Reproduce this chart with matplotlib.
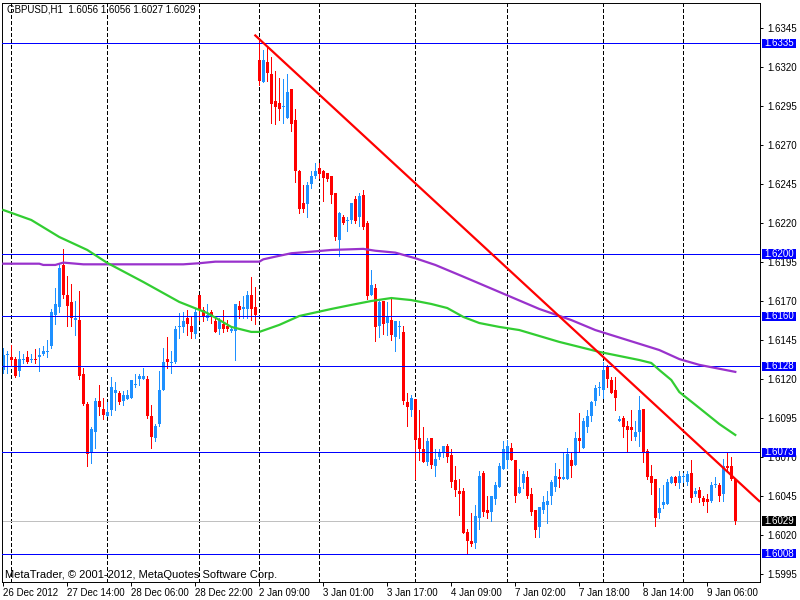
import numpy as np
import matplotlib
matplotlib.use("Agg")
import matplotlib.pyplot as plt
from matplotlib.patches import Rectangle
from matplotlib.transforms import blended_transform_factory

plt.rcParams['font.family'] = ['Liberation Sans', 'DejaVu Sans']
plt.rcParams['lines.scale_dashes'] = False

# GBPUSD H1 candles (bar index 0..183)
opens = [1.6126, 1.6135, 1.6134, 1.6133, 1.6125, 1.6132, 1.6134, 1.6132, 1.6133, 1.6134,
         1.6136, 1.6137, 1.6141, 1.6161, 1.6166, 1.6193, 1.6174, 1.6169, 1.6158, 1.6158,
         1.6123, 1.6104, 1.6073, 1.6086, 1.6106, 1.6101, 1.6096, 1.6100, 1.6111, 1.6111,
         1.6106, 1.6107, 1.6108, 1.6116, 1.6120, 1.6120, 1.6120, 1.6096, 1.6082, 1.6091,
         1.6113, 1.6133, 1.6130, 1.6131, 1.6153, 1.6153, 1.6159, 1.6154, 1.6149, 1.6174,
         1.6164, 1.6159, 1.6163, 1.6157, 1.6152, 1.6155, 1.6154, 1.6151, 1.6151, 1.6167,
         1.6165, 1.6165, 1.6174, 1.6166, 1.6324, 1.6310, 1.6323, 1.6315, 1.6298, 1.6297,
         1.6294, 1.6287, 1.6306, 1.6286, 1.6253, 1.6233, 1.6232, 1.6245, 1.6250, 1.6255,
         1.6253, 1.6252, 1.6250, 1.6239, 1.6209, 1.6224, 1.6221, 1.6222, 1.6235, 1.6224,
         1.6238, 1.6220, 1.6174, 1.6178, 1.6154, 1.6170, 1.6156, 1.6158, 1.6147, 1.6153,
         1.6150, 1.6105, 1.6100, 1.6107, 1.6082, 1.6075, 1.6067, 1.6082, 1.6064, 1.6070,
         1.6073, 1.6077, 1.6071, 1.6055, 1.6048, 1.6048, 1.6022, 1.6016, 1.6015, 1.6031,
         1.6060, 1.6036, 1.6035, 1.6043, 1.6051, 1.6062, 1.6068, 1.6076, 1.6068, 1.6047,
         1.6053, 1.6057, 1.6046, 1.6036, 1.6025, 1.6036, 1.6039, 1.6045, 1.6051, 1.6057,
         1.6056, 1.6056, 1.6068, 1.6065, 1.6082, 1.6076, 1.6089, 1.6096, 1.6106, 1.6114,
         1.6113, 1.6128, 1.6119, 1.6113, 1.6093, 1.6095, 1.6090, 1.6089, 1.6083, 1.6086,
         1.6101, 1.6074, 1.6058, 1.6056, 1.6034, 1.6039, 1.6040, 1.6053, 1.6057, 1.6053,
         1.6057, 1.6054, 1.6060, 1.6046, 1.6049, 1.6044, 1.6043, 1.6042, 1.6052, 1.6052,
         1.6046, 1.6064, 1.6064, 1.6056]
highs = [1.6140, 1.6138, 1.6142, 1.6134, 1.6138, 1.6136, 1.6138, 1.6136, 1.6139, 1.6140,
         1.6141, 1.6145, 1.6165, 1.6178, 1.6194, 1.6203, 1.6186, 1.6181, 1.6170, 1.6176,
         1.6127, 1.6105, 1.6089, 1.6108, 1.6116, 1.6108, 1.6105, 1.6121, 1.6118, 1.6112,
         1.6112, 1.6113, 1.6119, 1.6123, 1.6123, 1.6127, 1.6122, 1.6103, 1.6091, 1.6125,
         1.6140, 1.6147, 1.6138, 1.6154, 1.6162, 1.6163, 1.6164, 1.6160, 1.6165, 1.6174,
         1.6166, 1.6168, 1.6164, 1.6160, 1.6159, 1.6164, 1.6158, 1.6154, 1.6168, 1.6170,
         1.6173, 1.6176, 1.6185, 1.6179, 1.6337, 1.6331, 1.6332, 1.6326, 1.6317, 1.6313,
         1.6312, 1.6315, 1.6306, 1.6293, 1.6254, 1.6244, 1.6246, 1.6253, 1.6258, 1.6258,
         1.6254, 1.6252, 1.6250, 1.6239, 1.6227, 1.6225, 1.6224, 1.6233, 1.6237, 1.6239,
         1.6241, 1.6221, 1.6190, 1.6181, 1.6170, 1.6170, 1.6169, 1.6172, 1.6157, 1.6157,
         1.6154, 1.6111, 1.6110, 1.6107, 1.6100, 1.6089, 1.6082, 1.6082, 1.6075, 1.6075,
         1.6077, 1.6078, 1.6075, 1.6064, 1.6056, 1.6050, 1.6024, 1.6034, 1.6039, 1.6061,
         1.6061, 1.6045, 1.6045, 1.6054, 1.6066, 1.6080, 1.6081, 1.6079, 1.6068, 1.6062,
         1.6061, 1.6061, 1.6050, 1.6036, 1.6038, 1.6045, 1.6048, 1.6055, 1.6066, 1.6062,
         1.6073, 1.6076, 1.6073, 1.6086, 1.6098, 1.6095, 1.6100, 1.6106, 1.6116, 1.6118,
         1.6131, 1.6129, 1.6121, 1.6121, 1.6096, 1.6096, 1.6093, 1.6100, 1.6093, 1.6109,
         1.6101, 1.6075, 1.6065, 1.6056, 1.6050, 1.6052, 1.6056, 1.6058, 1.6058, 1.6061,
         1.6060, 1.6061, 1.6068, 1.6050, 1.6051, 1.6045, 1.6046, 1.6054, 1.6057, 1.6053,
         1.6069, 1.6073, 1.6070, 1.6056]
lows = [1.6124, 1.6124, 1.6129, 1.6121, 1.6122, 1.6130, 1.6130, 1.6131, 1.6130, 1.6125,
        1.6135, 1.6134, 1.6140, 1.6155, 1.6163, 1.6172, 1.6154, 1.6154, 1.6148, 1.6120,
        1.6103, 1.6064, 1.6066, 1.6076, 1.6097, 1.6094, 1.6096, 1.6097, 1.6100, 1.6104,
        1.6103, 1.6107, 1.6108, 1.6115, 1.6116, 1.6120, 1.6095, 1.6076, 1.6080, 1.6090,
        1.6113, 1.6127, 1.6124, 1.6130, 1.6146, 1.6150, 1.6148, 1.6146, 1.6146, 1.6158,
        1.6157, 1.6158, 1.6156, 1.6150, 1.6149, 1.6150, 1.6151, 1.6150, 1.6132, 1.6159,
        1.6159, 1.6159, 1.6158, 1.6155, 1.6308, 1.6310, 1.6311, 1.6284, 1.6283, 1.6286,
        1.6284, 1.6287, 1.6279, 1.6246, 1.6226, 1.6227, 1.6224, 1.6242, 1.6249, 1.6249,
        1.6234, 1.6247, 1.6233, 1.6209, 1.6199, 1.6219, 1.6215, 1.6220, 1.6220, 1.6218,
        1.6216, 1.6171, 1.6174, 1.6144, 1.6147, 1.6149, 1.6148, 1.6145, 1.6138, 1.6146,
        1.6104, 1.6090, 1.6096, 1.6056, 1.6068, 1.6067, 1.6065, 1.6063, 1.6058, 1.6069,
        1.6070, 1.6067, 1.6051, 1.6045, 1.6033, 1.6021, 1.6008, 1.6013, 1.6012, 1.6024,
        1.6032, 1.6031, 1.6029, 1.6040, 1.6051, 1.6062, 1.6063, 1.6068, 1.6041, 1.6047,
        1.6050, 1.6044, 1.6033, 1.6019, 1.6019, 1.6034, 1.6028, 1.6040, 1.6048, 1.6051,
        1.6056, 1.6056, 1.6057, 1.6065, 1.6074, 1.6076, 1.6086, 1.6093, 1.6103, 1.6110,
        1.6108, 1.6115, 1.6111, 1.6100, 1.6093, 1.6083, 1.6074, 1.6081, 1.6081, 1.6077,
        1.6067, 1.6056, 1.6046, 1.6026, 1.6031, 1.6037, 1.6040, 1.6053, 1.6052, 1.6050,
        1.6054, 1.6052, 1.6041, 1.6045, 1.6041, 1.6039, 1.6035, 1.6041, 1.6051, 1.6042,
        1.6042, 1.6061, 1.6055, 1.6027]
closes = [1.6135, 1.6136, 1.6132, 1.6122, 1.6133, 1.6133, 1.6131, 1.6133, 1.6132, 1.6135,
          1.6138, 1.6138, 1.6163, 1.6168, 1.6191, 1.6174, 1.6167, 1.6159, 1.6159, 1.6122,
          1.6104, 1.6072, 1.6088, 1.6106, 1.6102, 1.6097, 1.6099, 1.6115, 1.6113, 1.6105,
          1.6110, 1.6110, 1.6119, 1.6117, 1.6122, 1.6122, 1.6096, 1.6083, 1.6090, 1.6113,
          1.6131, 1.6131, 1.6131, 1.6152, 1.6154, 1.6157, 1.6155, 1.6150, 1.6163, 1.6164,
          1.6160, 1.6161, 1.6160, 1.6150, 1.6158, 1.6152, 1.6152, 1.6152, 1.6168, 1.6164,
          1.6166, 1.6174, 1.6165, 1.6161, 1.6311, 1.6324, 1.6316, 1.6296, 1.6294, 1.6293,
          1.6295, 1.6304, 1.6283, 1.6253, 1.6229, 1.6229, 1.6244, 1.6250, 1.6253, 1.6251,
          1.6249, 1.6248, 1.6238, 1.6211, 1.6226, 1.6220, 1.6222, 1.6233, 1.6221, 1.6237,
          1.6217, 1.6173, 1.6180, 1.6153, 1.6169, 1.6155, 1.6160, 1.6148, 1.6157, 1.6154,
          1.6106, 1.6102, 1.6108, 1.6081, 1.6075, 1.6067, 1.6080, 1.6065, 1.6069, 1.6073,
          1.6077, 1.6070, 1.6054, 1.6049, 1.6046, 1.6021, 1.6016, 1.6014, 1.6032, 1.6058,
          1.6035, 1.6034, 1.6045, 1.6052, 1.6064, 1.6075, 1.6077, 1.6068, 1.6045, 1.6051,
          1.6059, 1.6045, 1.6035, 1.6023, 1.6038, 1.6041, 1.6042, 1.6054, 1.6058, 1.6056,
          1.6057, 1.6072, 1.6064, 1.6082, 1.6080, 1.6093, 1.6096, 1.6105, 1.6114, 1.6115,
          1.6126, 1.6120, 1.6111, 1.6108, 1.6094, 1.6089, 1.6087, 1.6087, 1.6086, 1.6100,
          1.6073, 1.6057, 1.6053, 1.6031, 1.6037, 1.6041, 1.6054, 1.6057, 1.6053, 1.6058,
          1.6058, 1.6059, 1.6044, 1.6048, 1.6044, 1.6041, 1.6041, 1.6052, 1.6052, 1.6045,
          1.6064, 1.6063, 1.6056, 1.6029]

# moving averages (bar index, price)
green_idx = [0, 7, 14, 21, 26, 35, 44, 51, 57, 62, 64, 69, 74, 82, 87, 92, 97, 102, 107,
             111, 115, 119, 124, 129, 134, 139, 144, 149, 154, 159, 162, 164, 167, 169,
             174, 179, 183]
green_val = [1.62282, 1.62218, 1.62109, 1.62026, 1.61943, 1.61821, 1.61693, 1.61622,
             1.61533, 1.61501, 1.61501, 1.61546, 1.61603, 1.61648, 1.61674, 1.61699,
             1.61718, 1.61705, 1.61680, 1.61654, 1.61597, 1.61558, 1.61533, 1.61513,
             1.61475, 1.61437, 1.61405, 1.61373, 1.61347, 1.61321, 1.61302, 1.61257,
             1.61193, 1.61116, 1.61014, 1.60911, 1.60841]
purple_idx = [0, 9, 10, 13, 15, 20, 45, 49, 53, 64, 65, 68, 72, 77, 82, 90, 93, 98, 103,
              108, 115, 124, 134, 142, 148, 156, 164, 169, 174, 183]
purple_val = [1.61938, 1.61938, 1.61930, 1.61930, 1.61945, 1.61934, 1.61934, 1.61941,
              1.61951, 1.61951, 1.61966, 1.61983, 1.62005, 1.62015, 1.62026, 1.62033,
              1.62021, 1.62009, 1.61973, 1.61930, 1.61855, 1.61757, 1.61648, 1.61577,
              1.61513, 1.61449, 1.61385, 1.61327, 1.61290, 1.61245]

trend_idx = [63, 189]
trend_val = [1.63400, 1.60417]

levels = [1.6335, 1.6200, 1.6160, 1.6128, 1.6073, 1.6008]
last_price = 1.6029

grid_bars = [2, 26, 49, 64, 79, 103, 126, 150, 170]
time_ticks = [0, 16, 32, 48, 64, 80, 96, 112, 128, 144, 160, 176]
time_labels = ['26 Dec 2012', '27 Dec 14:00', '28 Dec 06:00', '28 Dec 22:00',
               '2 Jan 09:00', '3 Jan 01:00', '3 Jan 17:00', '4 Jan 09:00',
               '7 Jan 02:00', '7 Jan 18:00', '8 Jan 14:00', '9 Jan 06:00']
price_ticks = [1.5995, 1.6020, 1.6045, 1.6070, 1.6095, 1.6120, 1.6145, 1.6170,
               1.6195, 1.6220, 1.6245, 1.6270, 1.6295, 1.6320, 1.6345]

o = np.array(opens)
h = np.array(highs)
l = np.array(lows)
c = np.array(closes)
idx = np.arange(len(o))
up = c >= o
colors = np.where(up, '#1e90ff', '#ff0000')

fig = plt.figure(figsize=(8, 6), dpi=100)
ax = fig.add_axes([2 / 800, 18 / 600, 758 / 800, 579 / 600])
ax.set_xlim(-0.325, 189.175)
ax.set_ylim(1.59899, 1.63608)

for gb in grid_bars:
    ax.axvline(gb, color='black', lw=0.7, dashes=(2.4, 2.0), zorder=1, antialiased=False)

ax.vlines(idx, l, h, colors=colors, lw=0.7, zorder=2, antialiased=False)
body_low = np.minimum(o, c)
body_h = np.maximum(np.abs(c - o), 0.00007)
ax.bar(idx, body_h, bottom=body_low, width=0.7, color=colors, linewidth=0,
       zorder=2, antialiased=False)

for lv in levels:
    ax.axhline(lv, color='#0000ff', lw=0.7, zorder=3, antialiased=False)
ax.axhline(last_price, color='#c0c0c0', lw=0.7, zorder=1, antialiased=False)

ax.plot(purple_idx, purple_val, color='#9932cc', lw=1.6, zorder=3)
ax.plot(green_idx, green_val, color='#32cd32', lw=1.6, zorder=3)
ax.plot(trend_idx, trend_val, color='#ff0000', lw=1.6, zorder=4)

# right price scale
ax.yaxis.tick_right()
ax.set_yticks(price_ticks)
ax.set_yticklabels([f'{p:.4f}' for p in price_ticks])
ax.tick_params(axis='y', length=2.5, width=0.7, pad=2.5, labelsize=7, colors='black')

ax.set_xticks(time_ticks)
ax.set_xticklabels(time_labels)
ax.tick_params(axis='x', length=3, width=0.7, pad=1.5, labelsize=7)
for lab in ax.get_xticklabels():
    lab.set_ha('left')

for s in ax.spines.values():
    s.set_color('black')
    s.set_linewidth(0.7)

tr = blended_transform_factory(ax.transAxes, ax.transData)
box_h = 0.00060
for lv, fc in [(p, '#0000ff') for p in levels] + [(last_price, 'black')]:
    ax.add_patch(Rectangle((1.0022, lv - box_h / 2), 0.045, box_h, transform=tr,
                           facecolor=fc, edgecolor='none', clip_on=False, zorder=6))
    ax.text(1.0062, lv, f'{lv:.4f}', transform=tr, ha='left', va='center',
            color='white', fontsize=7, clip_on=False, zorder=7)

ax.text(0.0066, 0.988, 'GBPUSD,H1  1.6056 1.6056 1.6027 1.6029', transform=ax.transAxes,
        ha='left', va='center', fontsize=7, color='black')
ax.text(0.004, 0.012, 'MetaTrader, © 2001-2012, MetaQuotes Software Corp.',
        transform=ax.transAxes, ha='left', va='center', fontsize=8, color='black')

fig.savefig('out.png', dpi=100, facecolor='white')
